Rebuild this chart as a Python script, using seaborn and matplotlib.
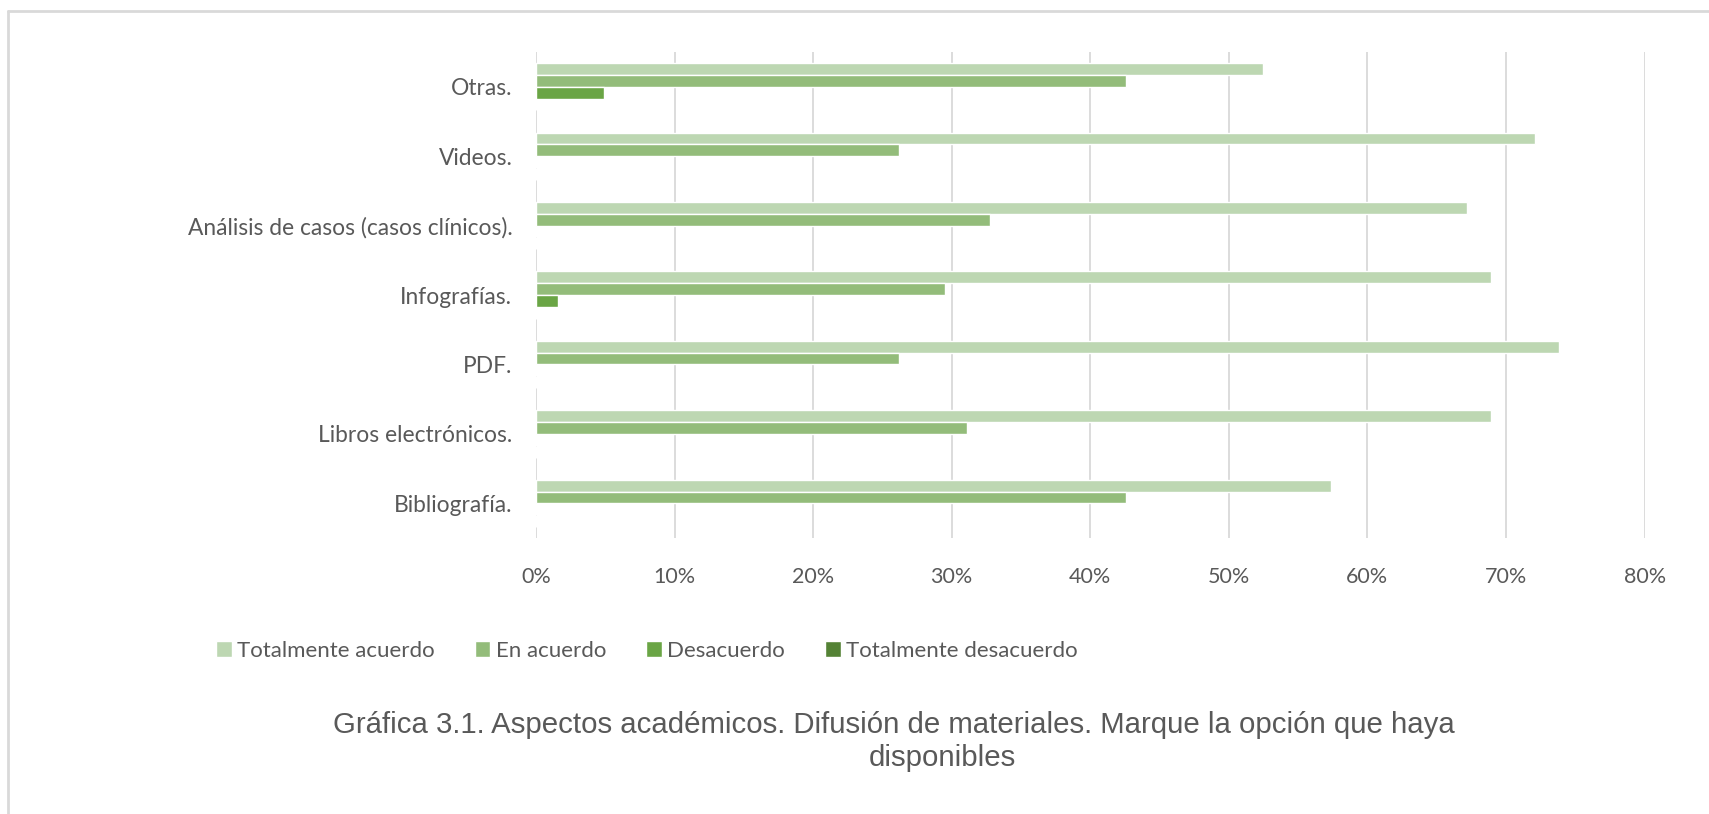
import pandas as pd
import matplotlib
matplotlib.use("Agg")
import matplotlib.pyplot as plt
import seaborn as sns
from matplotlib.lines import Line2D
from matplotlib.ticker import PercentFormatter

categories = [
    "Otras.",
    "Videos.",
    "Análisis de casos (casos clínicos).",
    "Infografías.",
    "PDF.",
    "Libros electrónicos.",
    "Bibliografía.",
]
series = ["Totalmente acuerdo", "En acuerdo", "Desacuerdo", "Totalmente desacuerdo"]

totalmente_acuerdo = [52.5, 72.1, 67.2, 68.9, 73.8, 68.9, 57.4]
en_acuerdo = [42.6, 26.2, 32.8, 29.5, 26.2, 31.1, 42.6]
desacuerdo = [4.9, 0.0, 0.0, 1.6, 0.0, 0.0, 0.0]
totalmente_desacuerdo = [0.0, 0.0, 0.0, 0.0, 0.0, 0.0, 0.0]

colors = ["#BDD7B2", "#93BC7A", "#6AA545", "#548235"]
gray = "#595959"

df = pd.DataFrame(
    {
        "categoria": categories * 4,
        "serie": [s for s in series for _ in categories],
        "valor": totalmente_acuerdo + en_acuerdo + desacuerdo + totalmente_desacuerdo,
    }
)

sns.set_style("white")
plt.rcParams["font.family"] = ["Lato", "DejaVu Sans"]

fig = plt.figure(figsize=(17.09, 8.14), dpi=100)
ax = fig.add_axes([0.3136, 0.339, 0.6487, 0.597])

sns.barplot(
    data=df,
    y="categoria",
    x="valor",
    hue="serie",
    order=categories,
    hue_order=series,
    palette=colors,
    width=0.68,
    gap=0,
    orient="h",
    saturation=1,
    ax=ax,
    legend=True,
)

ax.set_xlim(0, 80)
ax.set_xticks(range(0, 81, 10))
ax.xaxis.set_major_formatter(PercentFormatter(decimals=0))
ax.grid(axis="x", color="#D9D9D9", linewidth=1.3)
ax.grid(axis="y", visible=False)
ax.set_axisbelow(True)
for s in ax.spines.values():
    s.set_visible(False)
ax.set_xlabel("")
ax.set_ylabel("")
ax.tick_params(axis="x", length=0, pad=21, labelsize=15.5, labelcolor=gray)
ax.tick_params(axis="y", length=0, pad=17, labelsize=16.4, labelcolor=gray)

handles, labels = ax.get_legend_handles_labels()
ax.get_legend().remove()
fig.legend(
    handles,
    labels,
    loc="center",
    bbox_to_anchor=(647 / 1709, 1 - 651 / 814),
    ncol=4,
    frameon=False,
    fontsize=16,
    labelcolor=gray,
    handlelength=0.7,
    handleheight=0.7,
    handletextpad=0.25,
    columnspacing=1.8,
)

cap_font = ["Liberation Sans", "DejaVu Sans"]
fig.text(
    894 / 1709,
    1 - 725 / 814,
    "Gráfica 3.1. Aspectos académicos. Difusión de materiales. Marque la opción que haya",
    ha="center",
    va="center",
    fontsize=21.2,
    color=gray,
    family=cap_font,
)
fig.text(
    942 / 1709,
    1 - 758 / 814,
    "disponibles",
    ha="center",
    va="center",
    fontsize=21.2,
    color=gray,
    family=cap_font,
)

# marco gris arriba e izquierda
fig.add_artist(Line2D([8 / 1709, 1], [1 - 11 / 814] * 2, color="#D9D9D9", lw=2))
fig.add_artist(Line2D([8 / 1709] * 2, [0, 1 - 11 / 814], color="#D9D9D9", lw=2))

fig.savefig("out.png", dpi=100)
